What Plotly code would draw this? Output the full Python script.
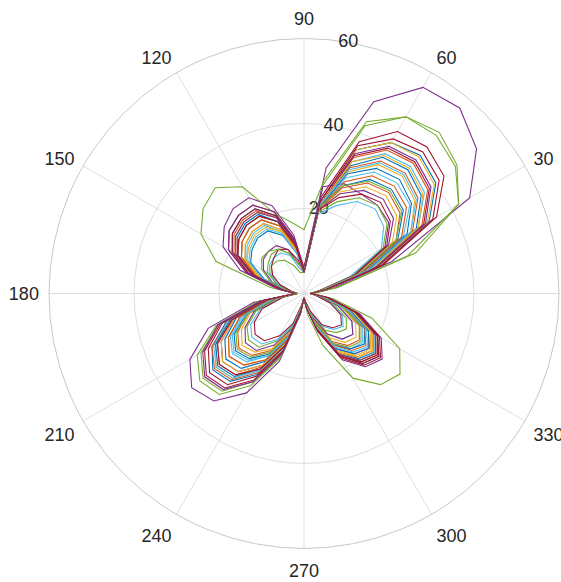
import plotly.graph_objects as go

# angles (degrees) at which every curve is sampled
angles = [0, 10, 20, 30, 40, 50, 60, 70, 80, 90,
          100, 110, 120, 130, 140, 150, 160, 170, 180,
          190, 200, 210, 220, 230, 240, 250, 260, 270,
          280, 290, 300, 310, 320, 330, 340, 350]

# radial values of each curve
c01 = [1.5, 5, 19, 34, 40.5, 42.5, 41, 36, 22, 5, 12.5, 19.5, 23, 23, 22, 19.5, 14, 6, 2,
       10, 19.5, 25, 28, 27, 22, 14, 4, 1, 3.5, 9, 17, 21.5, 23, 20, 13, 6]
c02 = [1.5, 5, 18, 32, 38, 40, 39, 34, 21, 5, 12.5, 19, 22.5, 22.5, 21.5, 19, 13.5, 5.5, 2,
       9.5, 19, 25, 27.5, 26.5, 21.5, 14, 4, 1, 3.5, 9, 17, 21, 22.5, 20, 13, 5.5]
c03 = [1.5, 5, 19, 33.5, 40, 42, 41, 36, 22, 6, 12, 19, 22, 22, 21, 18.5, 13, 5.5, 2,
       9.5, 19, 24, 27, 26, 21, 13.5, 4, 1, 3.5, 9, 16.5, 20.5, 22, 19.5, 13, 5.5]
c04 = [2, 7, 22, 45, 53, 57, 56, 48, 30, 6, 14, 22, 26, 26, 24.5, 22, 16, 6.5, 2,
       12, 24, 31, 34.5, 33, 27, 17, 5, 1, 3.5, 9.5, 18, 22.5, 24, 21, 14, 6]
c05 = [2, 8, 26, 42, 47, 49.5, 48, 42, 26, 6, 7, 10, 12, 12, 11, 10, 7, 3, 1.5,
       11, 22, 29, 32, 31, 25, 16, 5, 1, 3, 9, 16.5, 20.5, 22, 19.5, 13, 5.5]
c06 = [1.5, 5, 17.5, 31, 37, 39, 38, 33, 21, 5, 11.5, 18, 21, 21, 20, 18, 12.5, 5, 2,
       9.5, 19, 24.5, 27, 26, 21, 13.5, 4, 1, 2.5, 6, 11, 14, 15, 13, 9, 4]
c07 = [1.5, 5.5, 20, 36, 43, 45, 44, 38, 23, 6, 13, 20.5, 24, 24, 23, 20.5, 14.5, 6, 2,
       10.5, 21, 27, 30, 29, 23.5, 15, 4.5, 1, 3.5, 9.5, 17.5, 22, 23.5, 20.5, 13.5, 6]
c08 = [1.5, 4.5, 17, 30.5, 36, 38, 37, 32, 21, 5, 11, 17, 20, 20, 19, 17, 12, 5, 2,
       9.5, 18.5, 24, 26.5, 25.5, 20.5, 13, 4, 1, 3, 8.5, 16, 20, 21.5, 19, 12.5, 5.5]
c09 = [1.5, 4.5, 16.5, 29.5, 35, 37, 36, 31.5, 21, 5, 11.5, 18, 21, 21, 20, 18, 12.5, 5, 2,
       9, 18, 23.5, 26, 25, 20, 13, 4, 1, 3, 8.5, 16, 19.5, 21, 18.5, 12, 5]
c10 = [1.5, 4.5, 16, 29, 34, 36, 35, 30.5, 20.5, 5, 11, 17, 20, 20, 19, 17, 12, 5, 2,
       8, 16, 20.5, 23, 22, 18, 11.5, 3.5, 1, 3, 8, 15.5, 19, 20.5, 18, 12, 5]
c11 = [1.5, 4, 13, 22, 26, 27, 27, 27.5, 25.5, 6, 7, 11, 13, 13, 12.5, 11, 8, 3.5, 1.5,
       9, 17.5, 22.5, 25, 24, 19.5, 12.5, 4, 1, 3, 8, 15, 18.5, 20, 17.5, 11.5, 5]
c12 = [2, 8, 28, 42, 46.5, 48.5, 48, 43, 27, 15, 17, 20, 29, 32.5, 31, 28, 22, 8, 2,
       11, 21.5, 28, 31, 30, 24, 15.5, 4.5, 1.5, 5, 13, 23, 28, 29.5, 26, 17, 7]
c13 = [1.5, 4, 15, 27, 32.5, 34, 33, 29, 20.5, 5, 10, 15.5, 18.5, 18.5, 17.5, 15.5, 11, 4.5, 2,
       7.5, 15.5, 20, 22, 21, 17, 11, 3.5, 1, 2.5, 7, 13.5, 17, 18, 16, 10.5, 4.5]
c14 = [1.5, 5, 18, 32.5, 38.5, 40.5, 39.5, 34.5, 21, 5, 12.5, 19.5, 23, 23, 22, 19.5, 14, 6, 2,
       10, 20.5, 26, 29, 28, 22.5, 14.5, 4.5, 1, 3.5, 9, 17, 21.5, 23, 20, 13.5, 6]
c15 = [1.5, 4, 14.5, 25.5, 30.5, 32, 31, 27, 20.5, 5, 9.5, 14.5, 17, 17, 16, 14.5, 10, 4, 1.5,
       7.5, 14.5, 19, 21, 20, 16.5, 10.5, 3, 1, 3, 7.5, 14, 17, 18.5, 16.5, 11, 4.5]
c16 = [1.5, 4, 14, 25, 29.5, 31, 30, 26.5, 20, 5, 10.5, 16, 19, 19, 18, 16, 11.5, 4.5, 2,
       7, 14, 18, 20, 19, 15.5, 10, 3, 1, 2.5, 7, 13, 16, 17, 15, 10, 4]
c17 = [1.5, 3.5, 13.5, 24, 28.5, 30, 29, 25.5, 20, 5, 10, 15.5, 18, 18, 17, 15.5, 11, 4.5, 2,
       6.5, 13.5, 17, 19, 18, 15, 9.5, 3, 1, 2.5, 6.5, 12, 15, 16, 14, 9.5, 4]
c18 = [1.5, 3.5, 13, 23, 27.5, 29, 28, 25, 20, 5, 13, 20.5, 24, 24, 23, 20.5, 14.5, 6, 2,
       6.5, 12.5, 16, 18, 17.5, 14, 9, 3, 1, 2.5, 6, 11, 14, 15, 13, 8.5, 4]
c19 = [1.5, 3.5, 12, 21.5, 25.5, 27, 26, 23, 19.5, 5, 5, 7, 9, 10, 10, 9, 7, 3.5, 1.5,
       6, 12, 15.5, 17, 16.5, 13, 8.5, 2.5, 1, 2, 5, 10, 12, 13, 11.5, 7.5, 3.5]
c20 = [1.5, 3.5, 11.5, 21, 24.5, 26, 25, 22, 19, 5, 6, 9.5, 11, 11, 10.5, 9.5, 6.5, 3, 1.5,
       5.5, 11, 14.5, 16, 15.5, 12.5, 8, 2.5, 1, 2, 5, 9, 11, 12, 10.5, 7, 3]
c21 = [1.5, 3.5, 12.5, 22.5, 26.5, 28, 27, 24, 20, 5, 8, 11, 12, 11, 10, 8.5, 6, 3, 1.5,
       5, 10.5, 13.5, 15, 14.5, 11.5, 7.5, 2.5, 1, 2, 4.5, 8.5, 10.5, 11.5, 10, 6.5, 3]
c22 = [1.5, 4.5, 16, 28, 33, 35, 34, 30, 20.5, 5, 11.5, 18, 21.5, 21.5, 20.5, 18, 13, 5, 2,
       8.5, 17, 21.5, 24, 23, 18.5, 12, 3.5, 1, 3, 8, 15, 18.5, 20, 17.5, 11.5, 5]
c23 = [1.5, 4, 15, 26.5, 31.5, 33, 32, 28, 20.5, 5, 11, 17, 20, 20, 19, 17, 12, 5, 2,
       8, 16, 20.5, 23, 22, 18, 11.5, 3.5, 1, 3, 7.5, 14, 17.5, 19, 16.5, 11, 4.5]
c24 = [1.5, 4.5, 17, 31, 36.5, 38.5, 37.5, 33, 21, 5, 10.5, 16, 19, 19, 18, 16, 11.5, 4.5, 2,
       9, 17.5, 22.5, 25, 24, 19.5, 12.5, 4, 1, 3, 8.5, 16, 19.5, 21, 18.5, 12, 5]
c25 = [1.5, 5, 18.5, 33, 39, 41, 40, 35, 22, 5, 12, 19, 22, 22, 21, 18.5, 13, 5.5, 2,
       10.5, 21.5, 27.5, 30.5, 29.5, 24, 15, 4.5, 1, 3.5, 9, 16.5, 20.5, 22, 19.5, 13, 5.5]
c26 = [1.5, 4, 14, 25, 30, 31.5, 30.5, 27, 20.5, 5, 7, 10, 12, 13, 13, 11.5, 8.5, 4, 1.5,
       7, 14, 18.5, 20.5, 19.5, 16, 10.5, 3, 1, 2.5, 7, 13.5, 16.5, 17.5, 15.5, 10, 4.5]
c27 = [1.5, 4.5, 16.5, 29, 34.5, 36.5, 35.5, 31, 21, 5, 9.5, 15, 17.5, 17.5, 16.5, 15, 10.5, 4.5, 2,
       7.5, 15, 19.5, 21.5, 20.5, 17, 11, 3.5, 1, 3, 8, 14.5, 18, 19.5, 17, 11, 5]
c28 = [1.5, 5, 19.5, 35, 41.5, 43.5, 42, 37, 22, 5, 11.5, 18, 21, 21, 20, 18, 12.5, 5, 2,
       9, 18, 23.5, 26, 25, 20.5, 13, 4, 1, 3.5, 9, 17, 21, 22.5, 20, 13, 5.5]

curves = [c01, c02, c03, c04, c05, c06, c07, c08, c09, c10, c11, c12, c13, c14,
          c15, c16, c17, c18, c19, c20, c21, c22, c23, c24, c25, c26, c27, c28]

colors = ["#0072BD", "#D95319", "#EDB120", "#7E2F8E",
          "#77AC30", "#4DBEEE", "#A2142F"]

radial_ticks = [20, 40, 60]
radial_label_angle = 80
angular_ticks = [0, 30, 60, 90, 120, 150, 180, 210, 240, 270, 300, 330]

fig = go.Figure()

# radial tick labels (drawn first so the curves pass over them, like the reference)
fig.add_trace(go.Scatterpolar(
    r=radial_ticks,
    theta=[radial_label_angle] * len(radial_ticks),
    mode="text",
    text=[str(v) for v in radial_ticks],
    textposition="middle center",
    textfont=dict(family="Liberation Sans, Arial, sans-serif", size=18, color="#262626"),
    cliponaxis=False,
    showlegend=False,
    hoverinfo="skip",
))

for i, r in enumerate(curves):
    fig.add_trace(go.Scatterpolar(
        r=r + [r[0]],
        theta=angles + [angles[0]],
        mode="lines",
        line=dict(color=colors[i % len(colors)], width=1.1),
        showlegend=False,
        hoverinfo="skip",
    ))

W, H = 561, 582
cx, cy, R = 304, 293.5, 255
fig.update_layout(
    width=W, height=H,
    margin=dict(l=0, r=0, t=0, b=0),
    paper_bgcolor="white",
    plot_bgcolor="white",
    font=dict(family="Liberation Sans, Arial, sans-serif", size=18, color="#262626"),
    polar=dict(
        domain=dict(x=[(cx - R) / W, (cx + R) / W],
                    y=[(H - cy - R) / H, (H - cy + R) / H]),
        bgcolor="white",
        radialaxis=dict(
            range=[0, 60],
            tickvals=radial_ticks,
            showticklabels=False,
            angle=radial_label_angle,
            showline=False,
            ticks="",
            gridcolor="#dedede",
            gridwidth=1,
            layer="below traces",
        ),
        angularaxis=dict(
            rotation=0,
            direction="counterclockwise",
            tickvals=angular_ticks,
            ticktext=[str(v) for v in angular_ticks],
            ticks="outside",
            ticklen=6,
            tickcolor="rgba(0,0,0,0)",
            showline=True,
            linecolor="#c8c8c8",
            linewidth=1,
            gridcolor="#dedede",
            gridwidth=1,
            layer="below traces",
            tickfont=dict(size=18, color="#262626"),
        ),
    ),
)

fig.write_html("out.html", config={"displayModeBar": False},
               post_script="document.body.style.margin='0';")
